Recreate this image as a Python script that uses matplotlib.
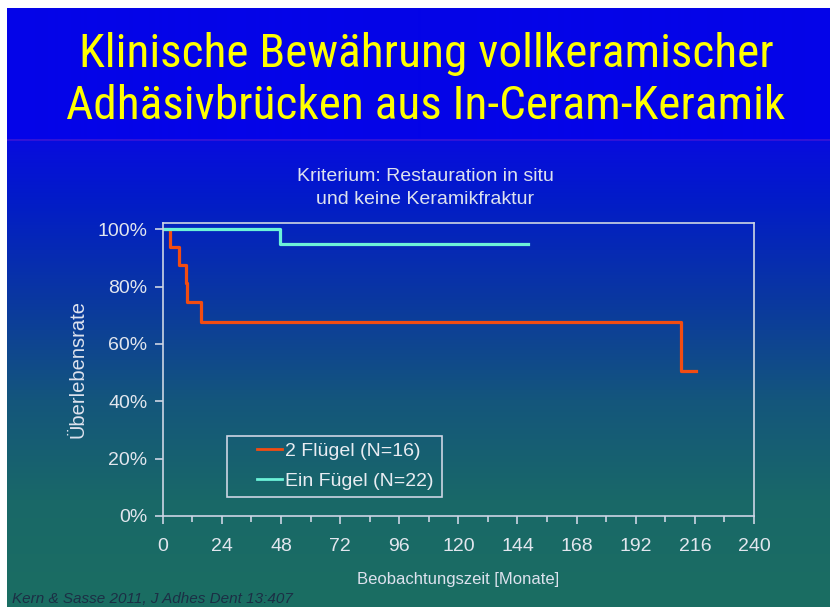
import numpy as np
import matplotlib
matplotlib.use("Agg")
import matplotlib.pyplot as plt
from matplotlib.lines import Line2D
from matplotlib.patches import Rectangle
from matplotlib.ticker import MultipleLocator, FuncFormatter

plt.rcParams["font.family"] = ["Liberation Sans", "DejaVu Sans"]

# Kaplan-Meier steps
months_2fl = [0, 3, 6.6, 9.3, 9.7, 15.5, 210.5, 216.5]
surv_2fl = [100, 93.75, 87.5, 81.25, 74.5, 67.7, 50.6, 50.6]
months_1fl = [0, 47.7, 148.3]
surv_1fl = [100, 94.7, 94.7]

x_ticks = list(range(0, 241, 24))
y_ticks = [0, 20, 40, 60, 80, 100]
labels = ["2 Flügel (N=16)", "Ein Fügel (N=22)"]

W, H = 830, 607
fig = plt.figure(figsize=(W / 100, H / 100), dpi=100)

# slide background: flat blue title band, then blue -> teal gradient
stops_y = [140, 200, 300, 400, 500, 607]
stops_c = np.array([[8, 12, 222], [2, 28, 200], [10, 56, 160],
                    [20, 86, 124], [25, 104, 104], [27, 110, 98]]) / 255
rows = np.arange(H)
col = np.stack([np.interp(rows, stops_y, stops_c[:, k]) for k in range(3)], axis=1)
col[:140] = np.array([4, 4, 232]) / 255
col[139:141] = np.array([50, 20, 215]) / 255
img = np.repeat(col[:, None, :], W, axis=1)
img[:8] = 1.0
img[:, :7] = 1.0
bg = fig.add_axes([0, 0, 1, 1], zorder=-1)
bg.imshow(img, aspect="auto", extent=(0, W, H, 0))
bg.set_xlim(0, W)
bg.set_ylim(H, 0)
bg.axis("off")

title_font = ["Roboto Condensed", "PT Sans Narrow", "Archivo Narrow", "Liberation Sans"]
fig.text(426 / W, 1 - 67 / H, "Klinische Bewährung vollkeramischer", color="#ffff00",
         fontsize=34, ha="center", va="baseline", family=title_font, fontweight="normal")
fig.text(426 / W, 1 - 119 / H, "Adhäsivbrücken aus In-Ceram-Keramik", color="#ffff00",
         fontsize=34, ha="center", va="baseline", family=title_font, fontweight="normal")
fig.text(425 / W, 1 - 188 / H, "Kriterium: Restauration in situ\nund keine Keramikfraktur",
         color="#dde2ee", fontsize=14, ha="center", va="center", linespacing=1.5)
fig.text(12 / W, 1 - 606 / H, "Kern & Sasse 2011, J Adhes Dent 13:407", color="#1c2f45",
         fontsize=11, style="italic", ha="left", va="bottom")

ax = fig.add_axes([162.7 / W, 1 - 516 / H, (754 - 162.7) / W, (516 - 222.7) / H])
ax.patch.set_alpha(0)
light = "#cdd5e4"

ax.step(months_2fl, surv_2fl, where="post", color="#f24c12", lw=2.3)
ax.step(months_1fl, surv_1fl, where="post", color="#6cf2d8", lw=2.3)

ax.set_xlim(0, 240)
ax.set_ylim(0, 102.3)
ax.set_xticks(x_ticks)
ax.xaxis.set_minor_locator(MultipleLocator(12))
ax.set_yticks(y_ticks)
ax.yaxis.set_major_formatter(FuncFormatter(lambda v, p: f"{v:.0f}%"))
for s in ax.spines.values():
    s.set_color(light)
    s.set_linewidth(1.2)
ax.tick_params(which="both", colors=light, labelcolor="#e2e6ee", labelsize=14,
               direction="out", width=1.2)
ax.tick_params(which="major", length=6)
ax.tick_params(which="minor", length=4)
ax.tick_params(axis="x", which="major", pad=10)
ax.tick_params(axis="y", which="major", pad=5)

ax.set_xlabel("Beobachtungszeit [Monate]", color="#dde2ee", fontsize=12, labelpad=12)
ax.set_ylabel("Überlebensrate", color="#dde2ee", fontsize=14.5, labelpad=7)

# legend frame drawn separately: the slide has a wide left margin
ax.add_patch(Rectangle(((227 - 162.7) / 591.3, (516 - 497) / 293.3), 215 / 591.3, 61 / 293.3,
                       transform=ax.transAxes, fill=False, ec=light, lw=1.2, zorder=3))
handles = [Line2D([], [], color="#f24c12", lw=2), Line2D([], [], color="#6cf2d8", lw=2)]
leg = ax.legend(handles, labels, loc="center left",
                bbox_to_anchor=((257 - 162.7) / 591.3, (516 - 466) / 293.3),
                frameon=False, fontsize=14, handlelength=1.3, handletextpad=0.15,
                borderpad=0, labelspacing=0.65, borderaxespad=0)
for t in leg.get_texts():
    t.set_color("#e8ecf2")

fig.savefig("out.png", dpi=100)
